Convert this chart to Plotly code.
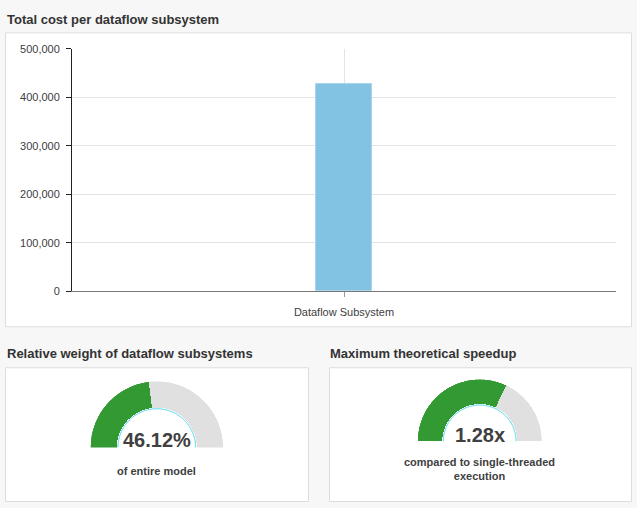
import plotly.graph_objects as go
import numpy as np

# ---------------- data ----------------
categories = ["Dataflow Subsystem"]
costs = [427500]
y_ticks = [0, 100000, 200000, 300000, 400000, 500000]

gauge_values = [46.12, 1.28]
gauge_max = [100, 2]
gauge_suffix = ["%", "x"]
gauge_captions = ["of entire model", "compared to single-threaded<br>execution"]
panel_titles = ["Total cost per dataflow subsystem",
                "Relative weight of dataflow subsystems",
                "Maximum theoretical speedup"]

# ---------------- helpers ----------------
W, H = 637, 508
def px(x):
    return x / W
def py(y):
    return 1 - y / H

FONT = "Liberation Sans, Arial, sans-serif"
GREEN = "#339933"
GREY = "#e0e0e0"
CYAN = "#45d4e6"
TXT = "#404040"

fig = go.Figure()

# ---------------- bar chart ----------------
fig.add_trace(go.Bar(
    x=categories, y=costs, width=0.103,
    marker=dict(color="#82c2e2", line=dict(color="#a9d5ec", width=1)),
    hoverinfo="x+y", showlegend=False,
    xaxis="x", yaxis="y",
))

# ---------------- gauges (polar half-rings) ----------------
gauge_domains = [
    dict(x=[px(88.8), px(224.8)], y=[py(452.3), py(384.3)]),
    dict(x=[px(416.0), px(543.4)], y=[py(446.0), py(382.3)]),
]
polar_names = ["polar", "polar2"]
for i, (v, m) in enumerate(zip(gauge_values, gauge_max)):
    frac = v / m
    deg = frac * 180.0
    sub = polar_names[i]
    fig.add_trace(go.Barpolar(
        r=[1], base=[0], theta=[deg / 2], width=[deg],
        marker=dict(color=GREEN, line=dict(width=0)),
        hoverinfo="skip", showlegend=False, subplot=sub,
    ))
    fig.add_trace(go.Barpolar(
        r=[1], base=[0], theta=[(deg + 180) / 2], width=[180 - deg],
        marker=dict(color=GREY, line=dict(width=0)),
        hoverinfo="skip", showlegend=False, subplot=sub,
    ))
    arc = np.linspace(0, 180, 181)
    fig.add_trace(go.Scatterpolar(
        r=np.full(arc.size, -0.045), theta=arc, mode="lines",
        line=dict(color=CYAN, width=1),
        hoverinfo="skip", showlegend=False, subplot=sub,
    ))

def polar_layout(dom):
    return dict(
        domain=dom, sector=[0, 180], hole=0.57,
        bgcolor="rgba(0,0,0,0)",
        radialaxis=dict(visible=False, range=[-0.083, 1], showgrid=False,
                        showline=False, showticklabels=False, ticks=""),
        angularaxis=dict(visible=False, rotation=180, direction="clockwise",
                         showgrid=False, showline=False, showticklabels=False,
                         ticks=""),
    )

# ---------------- panels (backgrounds) ----------------
shapes = []
for (x0, y0, x1, y1) in [(5.5, 27.5, 631.5, 328.5),
                         (5.5, 370.5, 308.5, 507.5),
                         (329.5, 370.5, 631.5, 507.5)]:
    shapes.append(dict(type="rect", xref="paper", yref="paper",
                       x0=px(x0), x1=px(x1), y0=py(y1), y1=py(y0),
                       fillcolor="white", line=dict(color="#dddddd", width=1),
                       layer="below"))

# ---------------- annotations ----------------
ann = []
for t, (x, y) in zip(panel_titles, [(4.5, 14), (4.5, 356), (327.5, 356)]):
    ann.append(dict(text="<b>%s</b>" % t, x=px(x), y=py(y), xref="paper", yref="paper",
                    xanchor="left", yanchor="middle", showarrow=False,
                    font=dict(family=FONT, size=13, color="#333333")))

num_pos = [(156.8, 444.5), (479.7, 439.0)]
cap_pos = [(156.8, 476), (479.7, 474)]
for i, v in enumerate(gauge_values):
    ann.append(dict(text="<b>%.2f%s</b>" % (v, gauge_suffix[i]),
                    x=px(num_pos[i][0]), y=py(num_pos[i][1]),
                    xref="paper", yref="paper", xanchor="center", yanchor="middle",
                    showarrow=False, font=dict(family=FONT, size=20, color=TXT)))
    ann.append(dict(text="<b>%s</b>" % gauge_captions[i],
                    x=px(cap_pos[i][0]), y=py(cap_pos[i][1]),
                    xref="paper", yref="paper", xanchor="center", yanchor="middle",
                    showarrow=False, align="center",
                    font=dict(family=FONT, size=11, color=TXT)))

fig.update_layout(
    width=W, height=H,
    margin=dict(l=0, r=0, t=0, b=0),
    paper_bgcolor="#f7f7f7",
    plot_bgcolor="white",
    bargap=0,
    font=dict(family=FONT, size=11, color=TXT),
    xaxis=dict(domain=[px(72), px(616)], anchor="y", type="category",
               range=[-0.5, 0.5], showgrid=True, gridcolor="#e3e3e3", gridwidth=1,
               showline=True, linecolor="#777777", linewidth=1,
               ticks="outside", ticklen=5, tickcolor="#999999",
               ticklabelstandoff=5,
               tickfont=dict(family=FONT, size=11, color=TXT), zeroline=False),
    yaxis=dict(domain=[py(292.3), py(44)], anchor="x", range=[0, 500000],
               tickvals=y_ticks, tickformat=",", showgrid=True, gridcolor="#e3e3e3",
               gridwidth=1, showline=True, linecolor="#222222", linewidth=1,
               ticks="outside", ticklen=5, tickcolor="#222222",
               ticklabelstandoff=4,
               tickfont=dict(family=FONT, size=11, color=TXT), zeroline=False),
    polar=polar_layout(gauge_domains[0]),
    polar2=polar_layout(gauge_domains[1]),
    shapes=shapes,
    annotations=ann,
)

fig.write_html("out.html")
